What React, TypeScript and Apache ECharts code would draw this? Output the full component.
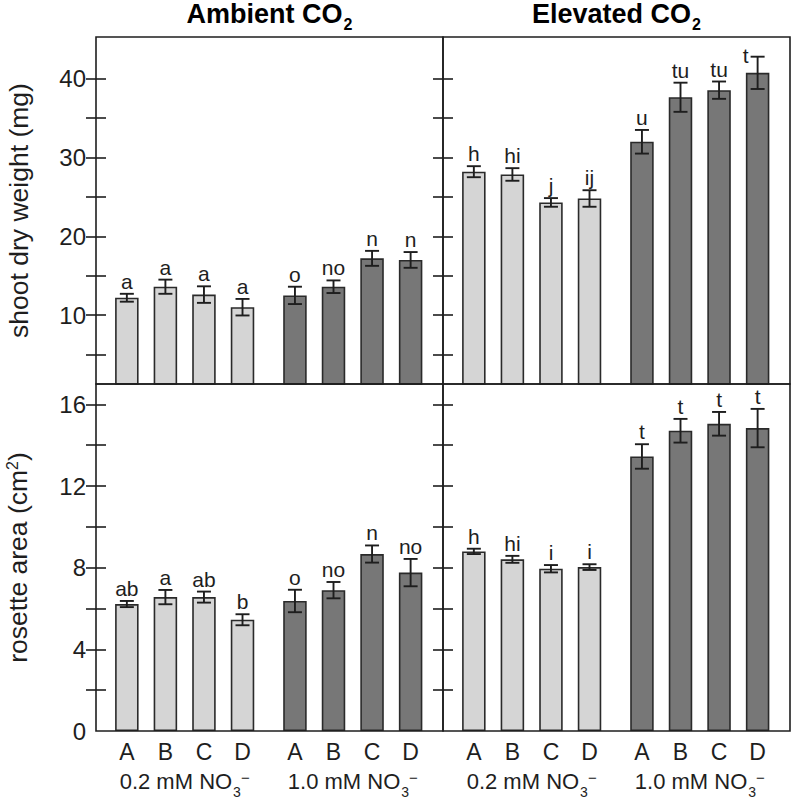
import React, { useEffect, useRef } from "react";
import * as echarts from "echarts";

// ---- data ----
const genotypes = ["A", "B", "C", "D", "A", "B", "C", "D"];
const nitrateGroups = ["0.2 mM NO", "1.0 mM NO"];
const panelTitles = ["Ambient CO", "Elevated CO"];

const ambientShoot = [12.2, 13.6, 12.6, 11.0, 12.5, 13.6, 17.2, 17.0];
const ambientShootErr = [0.5, 0.9, 1.05, 1.05, 1.1, 0.8, 0.95, 1.0];
const ambientShootLetters = ["a", "a", "a", "a", "o", "no", "n", "n"];

const elevatedShoot = [28.2, 27.85, 24.3, 24.8, 32.0, 37.65, 38.55, 40.75];
const elevatedShootErr = [0.7, 0.8, 0.55, 1.05, 1.5, 1.85, 1.1, 2.05];
const elevatedShootLetters = ["h", "hi", "j", "ij", "u", "tu", "tu", "t"];

const ambientRosette = [6.22, 6.56, 6.56, 5.45, 6.37, 6.9, 8.67, 7.76];
const ambientRosetteErr = [0.15, 0.35, 0.27, 0.27, 0.55, 0.4, 0.42, 0.67];
const ambientRosetteLetters = ["ab", "a", "ab", "b", "o", "no", "n", "no"];

const elevatedRosette = [8.8, 8.41, 7.95, 8.03, 13.45, 14.71, 15.05, 14.84];
const elevatedRosetteErr = [0.13, 0.17, 0.18, 0.14, 0.6, 0.58, 0.58, 0.94];
const elevatedRosetteLetters = ["h", "hi", "i", "i", "t", "t", "t", "t"];

const shootTickLabels = [10, 20, 30, 40];
const shootMinorTicks = [5, 10, 15, 20, 25, 30, 35, 40];
const rosetteTickLabels = [0, 4, 8, 12, 16];
const rosetteMinorTicks = [2, 4, 6, 8, 10, 12, 14, 16];

// ---- layout / style ----
const FONT = "'Liberation Sans', Arial, Helvetica, sans-serif";
const INK = "#1e1e1e";
const LIGHT = "#d5d5d5";
const DARK = "#777777";
const PANEL = 347;
const LEFT0 = 96;
const TOP0 = 37;

const POS = genotypes.map((_, i) => i + 0.8 + (i >= 4 ? 0.36 : 0));
const GROUP_POS = [(POS[0] + POS[3]) / 2, (POS[4] + POS[7]) / 2];

type Panel = {
  values: number[];
  errs: number[];
  letters: string[];
  row: number;
  col: number;
};

const panels: Panel[] = [
  { values: ambientShoot, errs: ambientShootErr, letters: ambientShootLetters, row: 0, col: 0 },
  { values: elevatedShoot, errs: elevatedShootErr, letters: elevatedShootLetters, row: 0, col: 1 },
  { values: ambientRosette, errs: ambientRosetteErr, letters: ambientRosetteLetters, row: 1, col: 0 },
  { values: elevatedRosette, errs: elevatedRosetteErr, letters: elevatedRosetteLetters, row: 1, col: 1 },
];

function buildOption() {
  const grid: any[] = [];
  const xAxis: any[] = [];
  const yAxis: any[] = [];
  const series: any[] = [];

  panels.forEach((p, k) => {
    const left = LEFT0 + p.col * PANEL;
    const top = TOP0 + p.row * PANEL;
    grid.push({
      left,
      top,
      width: PANEL,
      height: PANEL,
      show: true,
      borderColor: INK,
      borderWidth: 1.6,
      backgroundColor: "transparent",
      z: 5,
    });
    const bottomRow = p.row === 1;
    xAxis.push({
      type: "value",
      gridIndex: k,
      min: 0,
      max: 9,
      axisLine: { show: false },
      axisTick: { show: false },
      splitLine: { show: false },
      axisLabel: {
        show: bottomRow,
        customValues: POS,
        margin: 9,
        fontSize: 23,
        fontFamily: FONT,
        color: INK,
        formatter: (v: number) => {
          const i = POS.findIndex((q) => Math.abs(q - v) < 1e-6);
          return i >= 0 ? genotypes[i] : "";
        },
      },
    });
    xAxis.push({
      type: "value",
      gridIndex: k,
      min: 0,
      max: 9,
      position: "bottom",
      axisLine: { show: false },
      axisTick: { show: false },
      splitLine: { show: false },
      axisLabel: {
        show: bottomRow,
        customValues: GROUP_POS,
        margin: 37,
        fontSize: 22,
        fontFamily: FONT,
        color: INK,
        formatter: (v: number) => {
          const i = GROUP_POS.findIndex((q) => Math.abs(q - v) < 1e-6);
          return i >= 0 ? `{n|${nitrateGroups[i]}}{sub|3}{sup|\u2212}` : "";
        },
        rich: {
          n: { fontSize: 22, fontFamily: FONT, color: INK, lineHeight: 26 },
          sub: { fontSize: 14, fontFamily: FONT, color: INK, lineHeight: 26, padding: [22, 0, 0, 1] },
          sup: { fontSize: 15, fontFamily: FONT, color: INK, lineHeight: 26, padding: [0, 0, 8, 0] },
        },
      },
    });

    const isShoot = p.row === 0;
    const yMin = isShoot ? 1.25 : 0;
    const yMax = isShoot ? 45.3 : 17;
    const ticks = isShoot ? shootMinorTicks : rosetteMinorTicks;
    const labels = isShoot ? shootTickLabels : rosetteTickLabels;
    const common = {
      type: "value",
      gridIndex: k,
      min: yMin,
      max: yMax,
      splitLine: { show: false },
      axisLine: { show: false },
      axisTick: {
        show: true,
        inside: true,
        length: 10,
        customValues: ticks,
        lineStyle: { color: INK, width: 1.6 },
      },
    };
    yAxis.push({
      ...common,
      position: "left",
      axisLabel: {
        show: p.col === 0,
        customValues: labels,
        margin: 10,
        fontSize: 24,
        fontFamily: FONT,
        color: INK,
      },
      name:
        p.col === 0
          ? isShoot
            ? "shoot dry weight (mg)"
            : "rosette area (cm{sup|2})"
          : "",
      nameLocation: "middle",
      nameGap: 64,
      nameTextStyle: {
        fontSize: 26.5,
        fontFamily: FONT,
        color: INK,
        rich: {
          sup: { fontSize: 16, fontFamily: FONT, color: INK, padding: [0, 0, 12, 0] },
        },
      },
    });
    yAxis.push({
      ...common,
      position: "right",
      axisLabel: { show: false },
    });

    series.push({
      type: "bar",
      xAxisIndex: 2 * k,
      yAxisIndex: 2 * k,
      barWidth: 23.5,
      clip: true,
      z: 2,
      data: p.values.map((v, i) => ({
        value: [POS[i], v],
        itemStyle: {
          color: i < 4 ? LIGHT : DARK,
          borderColor: "#2a2a2a",
          borderWidth: 1.6,
        },
      })),
    });

    const letters = p.letters;
    series.push({
      type: "custom",
      xAxisIndex: 2 * k,
      yAxisIndex: 2 * k,
      z: 4,
      data: p.values.map((v, i) => [POS[i], v - p.errs[i], v + p.errs[i]]),
      renderItem: (params: any, api: any) => {
        const x = api.value(0);
        const lo = api.value(1);
        const hi = api.value(2);
        const pt = api.coord([x, hi]);
        const pb = api.coord([x, lo]);
        const half = 7;
        const cs = params.coordSys;
        const room = pt[1] - cs.y;
        const above = room >= 22;
        const stroke = { stroke: INK, lineWidth: 1.9 };
        return {
          type: "group",
          children: [
            { type: "line", shape: { x1: pt[0], y1: pt[1], x2: pb[0], y2: pb[1] }, style: stroke },
            { type: "line", shape: { x1: pt[0] - half, y1: pt[1], x2: pt[0] + half, y2: pt[1] }, style: stroke },
            { type: "line", shape: { x1: pb[0] - half, y1: pb[1], x2: pb[0] + half, y2: pb[1] }, style: stroke },
            {
              type: "text",
              x: above ? pt[0] : pt[0] - half - 2,
              y: above ? pt[1] - 2 : pt[1] - 1,
              style: {
                text: letters[params.dataIndex],
                fontSize: 21,
                fontFamily: FONT,
                fill: INK,
                align: above ? "center" : "right",
                verticalAlign: above ? "bottom" : "middle",
              },
            },
          ],
        };
      },
    });
  });

  const graphic = panelTitles.map((t, c) => ({
    type: "text",
    x: LEFT0 + c * PANEL + PANEL / 2,
    y: 14,
    style: {
      text: `{t|${t}}{s|2}`,
      align: "center",
      verticalAlign: "middle",
      rich: {
        t: { fontSize: 27, fontWeight: "bold", fontFamily: FONT, fill: "#000", lineHeight: 30 },
        s: { fontSize: 16, fontWeight: "bold", fontFamily: FONT, fill: "#000", lineHeight: 30, padding: [20, 0, 0, 1] },
      },
    },
  }));

  return {
    animation: false,
    backgroundColor: "#ffffff",
    grid,
    xAxis,
    yAxis,
    series,
    graphic,
  };
}

export default function App() {
  const ref = useRef<HTMLDivElement>(null);
  useEffect(() => {
    if (!ref.current) return;
    const chart = echarts.init(ref.current, null, { renderer: "svg" });
    chart.setOption(buildOption() as any);
    return () => chart.dispose();
  }, []);
  return (
    <div
      ref={ref}
      style={{ position: "absolute", left: 0, top: 0, width: 793, height: 799 }}
    />
  );
}
